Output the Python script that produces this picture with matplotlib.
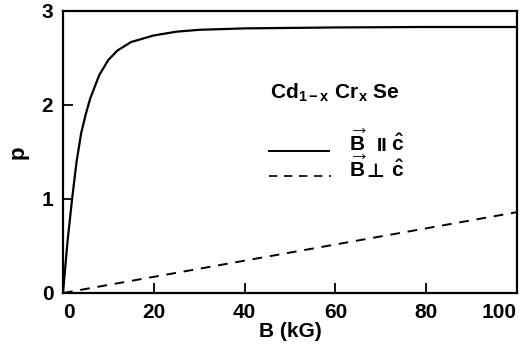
import numpy as np
import matplotlib
matplotlib.use('Agg')
import matplotlib.pyplot as plt

plt.rcParams['font.family'] = ['Liberation Sans', 'DejaVu Sans']
plt.rcParams['font.weight'] = 'bold'
plt.rcParams['mathtext.fontset'] = 'custom'
plt.rcParams['mathtext.rm'] = 'Liberation Sans:bold'
plt.rcParams['mathtext.it'] = 'Liberation Sans:bold'
plt.rcParams['mathtext.bf'] = 'Liberation Sans:bold'
plt.rcParams['xtick.direction'] = 'in'
plt.rcParams['ytick.direction'] = 'in'

# 平行 (B || c)
B_par = [0, 1, 2, 3, 4, 5, 6, 8, 10, 12, 15, 20, 25, 30, 40, 60, 80, 100]
p_par = [0, 0.55, 1.0, 1.4, 1.7, 1.9, 2.07, 2.32, 2.48, 2.58, 2.67, 2.74,
         2.78, 2.80, 2.815, 2.825, 2.83, 2.83]
# 垂直 (B ⊥ c)
B_perp = [0, 100]
p_perp = [0, 0.86]

fig = plt.figure(figsize=(5.23, 3.52), dpi=100)
ax = fig.add_axes([63/523, 1 - 293/352, (517-63)/523, (293-11)/352])

ax.plot(B_par, p_par, color='black', linewidth=1.6)
ax.plot(B_perp, p_perp, color='black', linewidth=1.4, dashes=(5, 4))

ax.set_xlim(0, 100)
ax.set_ylim(0, 3)
ax.set_xticks([0, 20, 40, 60, 80, 100])
ax.set_yticks([0, 1, 2, 3])
ax.tick_params(labelsize=15, length=7, width=1.3)
ax.tick_params(axis='x', pad=7)
ax.tick_params(axis='y', pad=7)
for lab in ax.get_xticklabels() + ax.get_yticklabels():
    lab.set_fontweight('bold')
xl = ax.get_xticklabels()
xl[0].set_ha('left')
xl[-1].set_ha('right')
for s in ax.spines.values():
    s.set_linewidth(1.6)

ax.set_xlabel('B (kG)', fontsize=15, fontweight='bold', labelpad=0)
ax.set_ylabel('p', fontsize=16, fontweight='bold', labelpad=9)

# legend (hand drawn)
ax.text(0.455, 0.71, r'$\mathrm{Cd_{1-x}\ Cr_x\ Se}$', transform=ax.transAxes,
        fontsize=15, va='center', ha='left')
ax.plot([0.453, 0.585], [0.505, 0.505], transform=ax.transAxes, color='black', linewidth=1.4)
ax.plot([0.453, 0.59], [0.415, 0.415], transform=ax.transAxes, color='black',
        linewidth=1.2, dashes=(5, 4))
ax.text(0.63, 0.505, r'$\overrightarrow{B}$', transform=ax.transAxes,
        fontsize=15, va='baseline', ha='left')
ax.text(0.69, 0.505, 'II', transform=ax.transAxes,
        fontsize=14, va='baseline', ha='left')
ax.text(0.722, 0.505, r'$\hat{c}$', transform=ax.transAxes,
        fontsize=15, va='baseline', ha='left')
ax.text(0.63, 0.41, r'$\overrightarrow{B}$', transform=ax.transAxes,
        fontsize=15, va='baseline', ha='left')
ax.text(0.668, 0.41, '⊥', transform=ax.transAxes, family='DejaVu Sans',
        fontsize=14, va='baseline', ha='left')
ax.text(0.722, 0.41, r'$\hat{c}$', transform=ax.transAxes,
        fontsize=15, va='baseline', ha='left')

plt.savefig('out.png', dpi=100)
